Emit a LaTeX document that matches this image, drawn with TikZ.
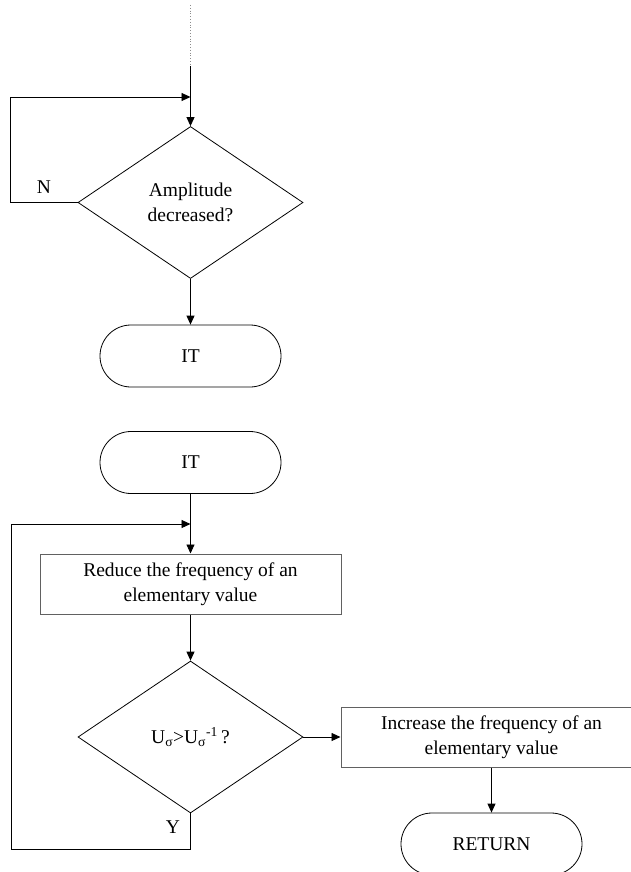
\documentclass[tikz,border=0pt]{standalone}
\usepackage{fontspec}
\setmainfont{Liberation Serif}
\usetikzlibrary{shapes.geometric,shapes.misc,arrows.meta}
\tikzset{
  txt/.style={font=\fontsize{19.5}{25}\selectfont, align=center, text=black},
  decision/.style={txt, diamond, draw=black, line width=0.8pt, minimum width=225pt, minimum height=152pt, inner sep=0pt},
  terminal/.style={txt, rounded rectangle, draw=black, line width=0.8pt, minimum width=181pt, minimum height=62pt, inner sep=0pt},
  process/.style={txt, rectangle, draw=black!62, line width=1pt, minimum width=301pt, minimum height=60pt, inner sep=0pt},
  link/.style={draw=black, line width=0.9pt},
  arr/.style={link, -{Triangle[length=9pt,width=8pt]}},
  lbl/.style={txt}
}
\begin{document}
\begin{tikzpicture}[x=1pt,y=-1pt]
\useasboundingbox (0,0) rectangle (631,872);
\begin{scope}
\clip (0,0) rectangle (631,872);

% upper part
\node[decision] (d1) at (190.5,202.5) {Amplitude\\decreased?};
\node[terminal] (it1) at (190.5,356) {IT};
\coordinate (s1) at (190.5,66);
\coordinate (t0) at (190.5,5);
\coordinate (j1) at (190.5,97);
\coordinate (l1) at (10,202.5);
\node[lbl] (n) at (44,187) {N};

\draw[black!45, line width=0.8pt, dotted] (t0) -- (s1);
\draw[link] (s1) -- (j1);
\draw[arr] (j1) -- (d1.north);
\draw[arr] (d1.west) -- (l1) |- (j1);
\draw[arr] (d1.south) -- (it1.north);

% lower part
\node[terminal] (it2) at (190.5,462.5) {IT};
\node[process] (r1) at (190.5,584) {Reduce the frequency of an\\elementary value};
\node[decision] (d2) at (190.5,737) {U\textsubscript{σ}>U\textsubscript{σ}\textsuperscript{-1}\,?};
\node[process] (r2) at (491.5,737) {Increase the frequency of an\\elementary value};
\node[terminal] (ret) at (491.5,844) {RETURN};
\node[lbl] (y) at (173,827) {Y};
\coordinate (j2) at (190.5,524);
\coordinate (yb) at (190.5,849);
\coordinate (yl) at (11,849);

\draw[link] (it2.south) -- (j2);
\draw[arr] (j2) -- (r1.north);
\draw[arr] (r1.south) -- (d2.north);
\draw[arr] (d2.east) -- (r2.west);
\draw[arr] (r2.south) -- (ret.north);
\draw[arr] (d2.south) -- (yb) -- (yl) |- (j2);
\end{scope}
\end{tikzpicture}
\end{document}
